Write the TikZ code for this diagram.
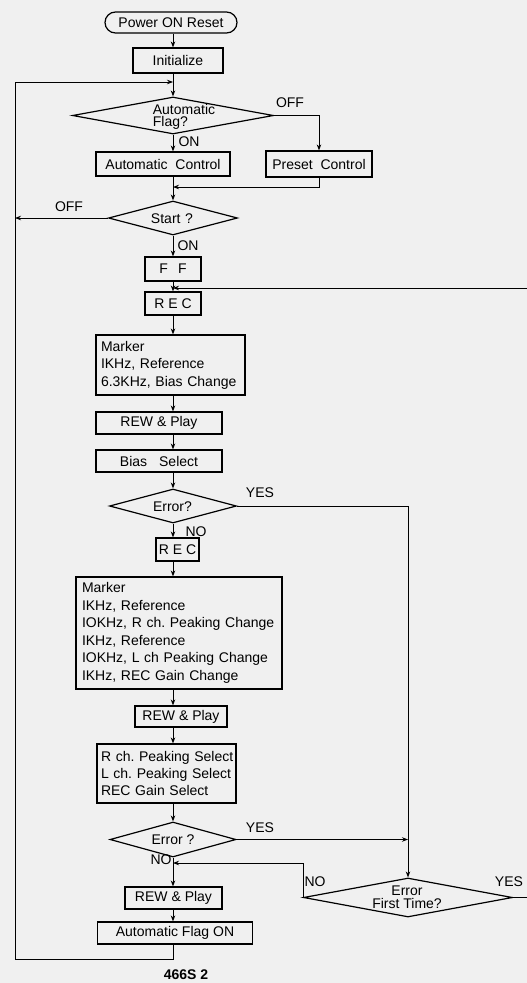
\documentclass[tikz,border=0pt]{standalone}
\usepackage{fontspec}
\setmainfont{Liberation Sans}
\usetikzlibrary{shapes.geometric,shapes.misc,arrows.meta}
\begin{document}
\frenchspacing
\begin{tikzpicture}[x=1pt,y=-1pt,
  every node/.style={font=\fontsize{14}{17.5}\selectfont},
  box/.style={draw, line width=1.2pt, inner sep=0pt, rectangle},
  term/.style={draw, line width=1.2pt, inner sep=0pt, rounded rectangle},
  dec/.style={draw, line width=1.2pt, inner sep=0pt, diamond},
  txtbox/.style={box, inner xsep=5pt, align=left},
  dtext/.style={inner sep=0pt, align=center, font=\fontsize{14}{12.5}\selectfont},
  lbl/.style={inner sep=0pt},
  arr/.style={line width=0.8pt, -{Stealth[length=6pt,width=4.5pt]}},
  ln/.style={line width=0.8pt}]
\useasboundingbox (0,0) rectangle (527,983);
\fill[black!6] (0,0) rectangle (527,983);

% column coordinates
\coordinate (mx) at (173,0);
\coordinate (j1) at (173,82);
\coordinate (tl) at (15,82);
\coordinate (bl) at (15,959);
\coordinate (sl) at (15,218);
\coordinate (j0) at (173,187);
\coordinate (j2) at (173,288);
\coordinate (j3) at (173,863);
\coordinate (rb) at (540,897.5);

% nodes
\node[term, minimum width=132, minimum height=21] (power) at (171,22.5) {Power ON Reset};
\node[box, minimum width=90, minimum height=25] (init) at (178,60.5) {Initialize};
\node[dec, minimum width=201, minimum height=37] (af) at (173,115.5) {};
\node[dtext, align=left] (afT) at (184,117) {Automatic\\Flag?};
\node[box, minimum width=134, minimum height=24] (ac) at (163,164) {Automatic\ \ Control};
\node[box, minimum width=106, minimum height=26] (pc) at (319,164) {Preset\ \ Control};
\node[dec, minimum width=129, minimum height=34] (st) at (173,218) {};
\node[dtext] (stT) at (172,219) {Start\,\,?};
\node[box, minimum width=56, minimum height=24] (ff) at (173,269) {F\hspace{10pt}F};
\node[box, minimum width=56, minimum height=23] (rec1) at (173,303.5) {R E C};
\node[txtbox, text width=139, minimum height=60] (mk1) at (170.5,365)
  {\mbox{Marker}\\\mbox{IKHz, Reference}\\\mbox{6.3KHz, Bias Change}};
\node[box, minimum width=126, minimum height=22] (rew1) at (159,423) {REW \& Play};
\node[box, minimum width=126, minimum height=22] (bias) at (159,461) {Bias\hspace{12pt}Select};
\node[dec, minimum width=127, minimum height=34] (e1) at (173,506) {};
\node[dtext] (e1T) at (172.5,507) {Error?};
\node[box, minimum width=43, minimum height=23] (rec2) at (177.5,549.5) {R E C};
\node[txtbox, inner xsep=6pt, text width=194, minimum height=112] (mk2) at (179,633)
  {\mbox{Marker}\\\mbox{IKHz, Reference}\\\mbox{IOKHz, R ch. Peaking Change}\\\mbox{IKHz, Reference}\\\mbox{IOKHz, L ch Peaking Change}\\\mbox{IKHz, REC Gain Change}};
\node[box, minimum width=92, minimum height=21] (rew2) at (181,716.5) {REW \& Play};
\node[txtbox, inner xsep=4pt, text width=131, minimum height=59, font=\fontsize{14}{17}\selectfont] (sel) at (166.5,773.5)
  {\mbox{R ch. Peaking Select}\\\mbox{L ch. Peaking Select}\\\mbox{REC Gain Select}};
\node[dec, minimum width=126, minimum height=35] (e2) at (173,839.5) {};
\node[dtext] (e2T) at (173,840) {Error ?};
\node[box, minimum width=97, minimum height=22] (rew3) at (173.5,898) {REW \& Play};
\node[box, minimum width=155, minimum height=22] (afon) at (175,933) {Automatic Flag ON};
\node[dec, minimum width=209, minimum height=39] (eft) at (408,897.5) {};
\node[dtext] (eftT) at (407,897) {Error\\First Time?};

% labels
\node[lbl] (lOff1) at (290,103) {OFF};
\node[lbl] (lOn1) at (189,142) {ON};
\node[lbl] (lOff2) at (69,207) {OFF};
\node[lbl] (lOn2) at (188,246) {ON};
\node[lbl] (lYes1) at (260,493) {YES};
\node[lbl] (lNo1) at (196,532) {NO};
\node[lbl] (lYes2) at (260,828) {YES};
\node[lbl] (lNo2) at (161,860) {NO};
\node[lbl] (lNo3) at (315,882) {NO};
\node[lbl] (lYes3) at (509,882) {YES};
\node[lbl, font=\fontsize{14}{16}\selectfont\bfseries] (fig) at (186,975) {466S 2};

% connectors
\draw[arr] (power.south -| mx) -- (init.north -| mx);
\draw[arr] (init.south -| mx) -- (af.north);
\draw[arr] (afon.south -| mx) |- (bl) -- (tl) -- (j1);
\draw[arr] (af.south) -- (ac.north -| mx);
\draw[arr] (af.east) -| (pc.north);
\draw[ln] (ac.south -| mx) -- (j0);
\draw[arr] (pc.south) |- (j0);
\draw[arr] (j0) -- (st.north);
\draw[arr] (st.west) -- (sl);
\draw[arr] (st.south) -- (ff.north -| mx);
\draw[arr] (ff.south -| mx) -- (rec1.north -| mx);
\draw[arr] (eft.east) -- (rb) |- (j2);
\draw[arr] (rec1.south -| mx) -- (mk1.north -| mx);
\draw[arr] (mk1.south -| mx) -- (rew1.north -| mx);
\draw[arr] (rew1.south -| mx) -- (bias.north -| mx);
\draw[arr] (bias.south -| mx) -- (e1.north);
\draw[arr] (e1.east) -| (eft.north);
\draw[arr] (e1.south) -- (rec2.north -| mx);
\draw[arr] (rec2.south -| mx) -- (mk2.north -| mx);
\draw[arr] (mk2.south -| mx) -- (rew2.north -| mx);
\draw[arr] (rew2.south -| mx) -- (sel.north -| mx);
\draw[arr] (sel.south -| mx) -- (e2.north);
\draw[arr] (e2.east) -- (e2.east -| eft.north);
\draw[arr] (e2.south) -- (rew3.north -| mx);
\draw[arr] (eft.west) |- (j3);
\draw[arr] (rew3.south -| mx) -- (afon.north -| mx);
\end{tikzpicture}
\end{document}
